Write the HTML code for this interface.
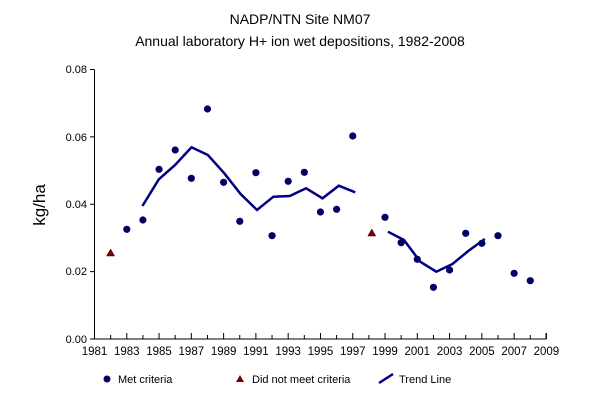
<!DOCTYPE html>
<html><head><meta charset="utf-8"><style>body{margin:0;background:#fff}svg{display:block}text{font-family:"Liberation Sans",Arial,sans-serif}</style></head><body>
<svg width="600" height="400" viewBox="0 0 600 400">
<text x="300" y="24" font-size="14" text-anchor="middle">NADP/NTN Site NM07</text>
<text x="300" y="46" font-size="14" text-anchor="middle">Annual laboratory H+ ion wet depositions, 1982-2008</text>
<text transform="translate(45,205) rotate(-90)" font-size="17" text-anchor="middle">kg/ha</text>
<g stroke="#000" stroke-width="1" fill="none">
<path d="M94.5 69.5V339H546V333"/>
<path d="M90 69.5H94.5M90 136.9H94.5M90 204.3H94.5M90 271.6H94.5M90 339H94.5"/>
</g>
<g font-size="11" text-anchor="end">
<text x="87" y="73">0.08</text><text x="87" y="141">0.06</text><text x="87" y="208">0.04</text><text x="87" y="275">0.02</text><text x="87" y="343">0.00</text>
</g>
<g id="xt" stroke="#000"></g>
<g id="xl" font-size="11.5" text-anchor="middle"></g>
<polyline fill="none" stroke="#000080" stroke-width="2.5" points="142.4,206 158.8,179.3 175.1,165 191.5,147.3 207.9,155 224.3,173.3 240.6,194 257,210 273.4,196.7 289.7,196 306.1,188.3 322.5,198.3 338.8,185.7 355.2,192.3"/>
<polyline fill="none" stroke="#000080" stroke-width="2.5" points="387.9,231.7 404,240 420.2,261.7 436.3,271.7 452.5,264 468.6,250.7 484.8,239"/>
<g id="pts" fill="#000066"></g>
<polygon points="110.6,249 106.6,256 114.6,256" fill="#7f0000" stroke="#3a0000" stroke-width="0.5"/>
<polygon points="371.8,229 367.8,236 375.8,236" fill="#7f0000" stroke="#3a0000" stroke-width="0.5"/>
<g font-size="11">
<circle cx="107" cy="379" r="3.5" fill="#000066"/><text x="118" y="383">Met criteria</text>
<polygon points="240,375 236,382 244,382" fill="#7f0000"/><text x="252" y="383">Did not meet criteria</text>
<line x1="379" y1="383" x2="393" y2="374" stroke="#000080" stroke-width="2.5"/><text x="399" y="383">Trend Line</text>
</g>
<script>
var ns="http://www.w3.org/2000/svg";
function X(y){return 94.5+(y-1981)*16.14;}
var xt=document.getElementById("xt"),xl=document.getElementById("xl"),p=document.getElementById("pts");
for(var y=1981;y<=2009;y++){var l=document.createElementNS(ns,"line");l.setAttribute("x1",X(y));l.setAttribute("x2",X(y));l.setAttribute("y1",339);l.setAttribute("y2",(y%2)?333:335);xt.appendChild(l);
if(y%2){var t=document.createElementNS(ns,"text");t.setAttribute("x",X(y));t.setAttribute("y",355);t.textContent=y;xl.appendChild(t);}}
var d={1983:229.3,1984:220,1985:169.3,1986:150,1987:178.3,1988:109,1989:182.3,1990:221.3,1991:172.7,1992:235.7,1993:181.3,1994:172.3,1995:212,1996:209.3,1997:136,1999:217.3,2000:242.7,2001:259.3,2002:287.3,2003:270,2004:233.3,2005:243.3,2006:235.7,2007:273.3,2008:280.7};
for(var k in d){var c=document.createElementNS(ns,"circle");c.setAttribute("cx",X(+k));c.setAttribute("cy",d[k]);c.setAttribute("r",3.6);p.appendChild(c);}
</script>
</svg></body></html>
